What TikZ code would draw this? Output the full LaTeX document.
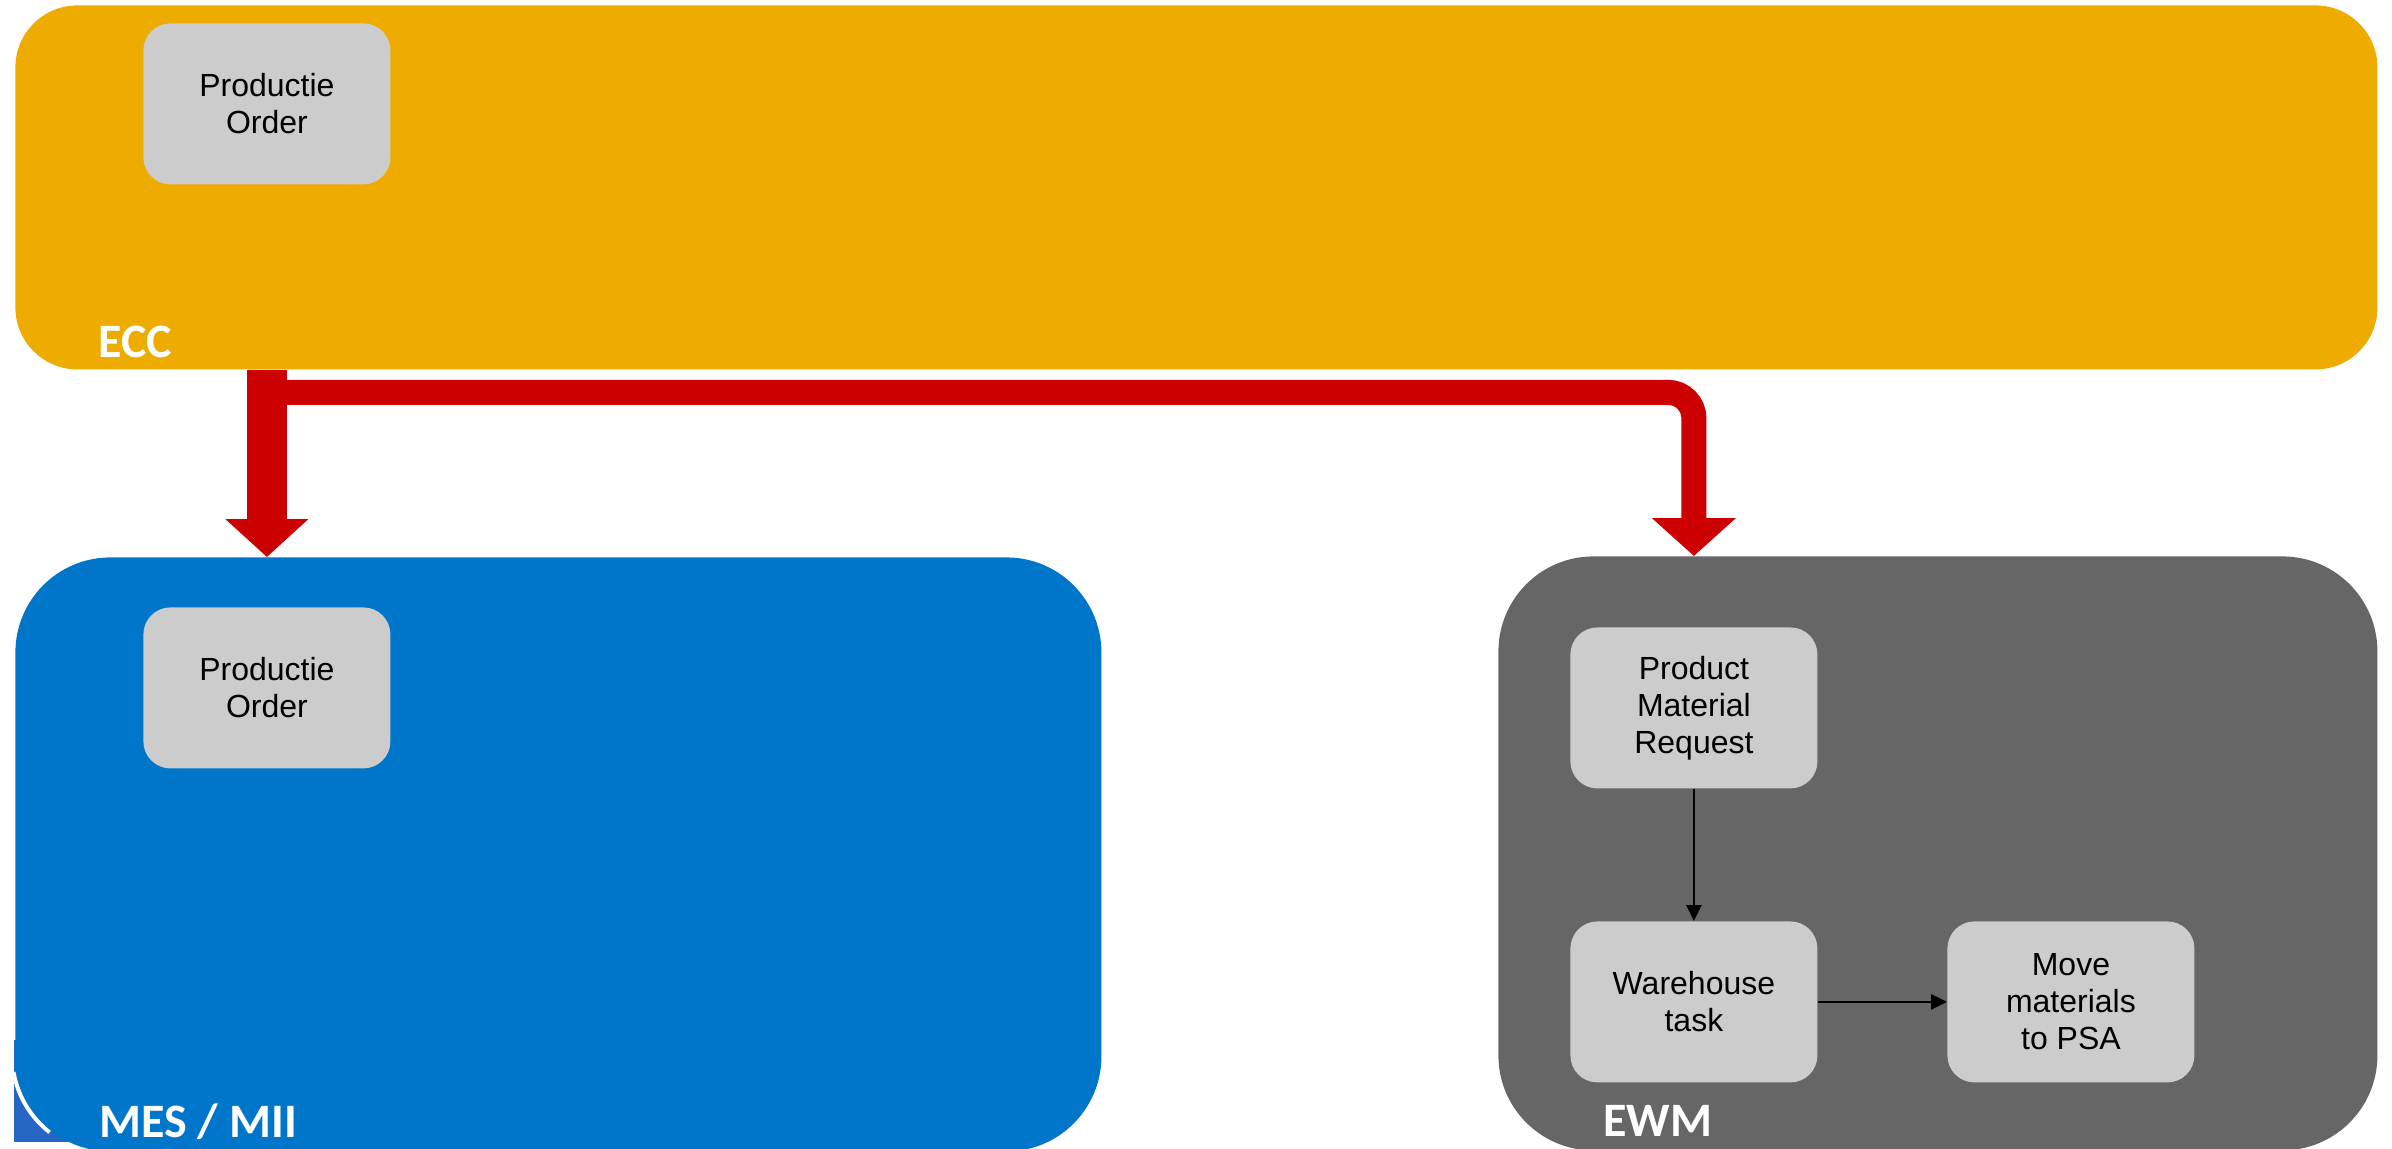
\documentclass[tikz,border=0pt]{standalone}
\usepackage{fontspec}
\setmainfont{Liberation Sans}
\newfontfamily\lblfont{Carlito}
\usetikzlibrary{arrows.meta}
\definecolor{eccyellow}{RGB}{238,172,0}
\definecolor{mesblue}{RGB}{0,118,202}
\definecolor{artblue}{RGB}{38,102,196}
\definecolor{ewmgray}{RGB}{102,102,102}
\definecolor{boxgray}{RGB}{204,204,204}
\definecolor{flowred}{RGB}{204,0,0}
\begin{document}
\begin{tikzpicture}[x=0.5pt,y=-0.5pt,
  container/.style={rectangle, inner sep=0pt, draw=none, anchor=north west},
  stepbox/.style={rectangle, inner sep=0pt, draw=none, fill=boxgray, anchor=north west,
    rounded corners=13.5pt, minimum width=123.5pt, minimum height=80.5pt,
    align=center, font=\fontsize{16}{18.5}\selectfont},
  syslabel/.style={inner sep=0pt, anchor=base west, text=white,
    font=\lblfont\bfseries\fontsize{24}{28}\selectfont},
  bigflow/.style={draw=flowred, line cap=butt},
  smallflow/.style={draw=black, line width=1.4pt, -{Triangle[length=8pt,width=7.5pt]}}]
\useasboundingbox (0,0) rectangle (2392,1148);
\fill[white] (0,0) rectangle (2392,1148);

% artefact at lower left
\fill[artblue] (14,1040) rectangle (95,1142);
\draw[white, line width=2pt] (110,1055) ++(170:98) arc[start angle=170, end angle=128, radius=98];

% containers
\node[container, fill=eccyellow, rounded corners=31pt, minimum width=1181pt, minimum height=182pt] (ecc) at (15,5) {};
\node[container, fill=mesblue, rounded corners=47.5pt, minimum width=543pt, minimum height=297pt] (mes) at (15,557) {};
\node[container, fill=ewmgray, rounded corners=47.5pt, minimum width=439.5pt, minimum height=297pt] (ewm) at (1498,556) {};

% container labels
\node[syslabel] (ecclbl) at (98,357) {ECC};
\node[syslabel] (meslbl) at (99,1137) {MES / MII};
\node[syslabel] (ewmlbl) at (1603,1136) {EWM};

% inner boxes
\node[stepbox] (eccorder) at (143,23) {Productie\\Order};
\node[stepbox] (mesorder) at (143,607) {Productie\\Order};
\node[stepbox] (pmr) at (1570,627) {Product\\Material\\Request};
\node[stepbox] (wt) at (1570,921) {Warehouse\\task};
\node[stepbox] (move) at (1947,921) {Move\\materials\\to PSA};

% red connectors
\coordinate (split) at ([yshift=-11.25pt]ecc.south -| eccorder.center);
\draw[bigflow, line width=20pt, -{Triangle[length=19pt,width=40.5pt]}]
  (ecc.south -| eccorder.center) -- (mes.north -| mesorder.center);
\draw[bigflow, line width=12.5pt, rounded corners=13pt, -{Triangle[length=19pt,width=41pt]}]
  (split) -| (ewm.north -| pmr.center);

% EWM flow
\draw[smallflow] (pmr.south) -- (wt.north);
\draw[smallflow] (wt.east) -- (move.west);
\end{tikzpicture}
\end{document}
